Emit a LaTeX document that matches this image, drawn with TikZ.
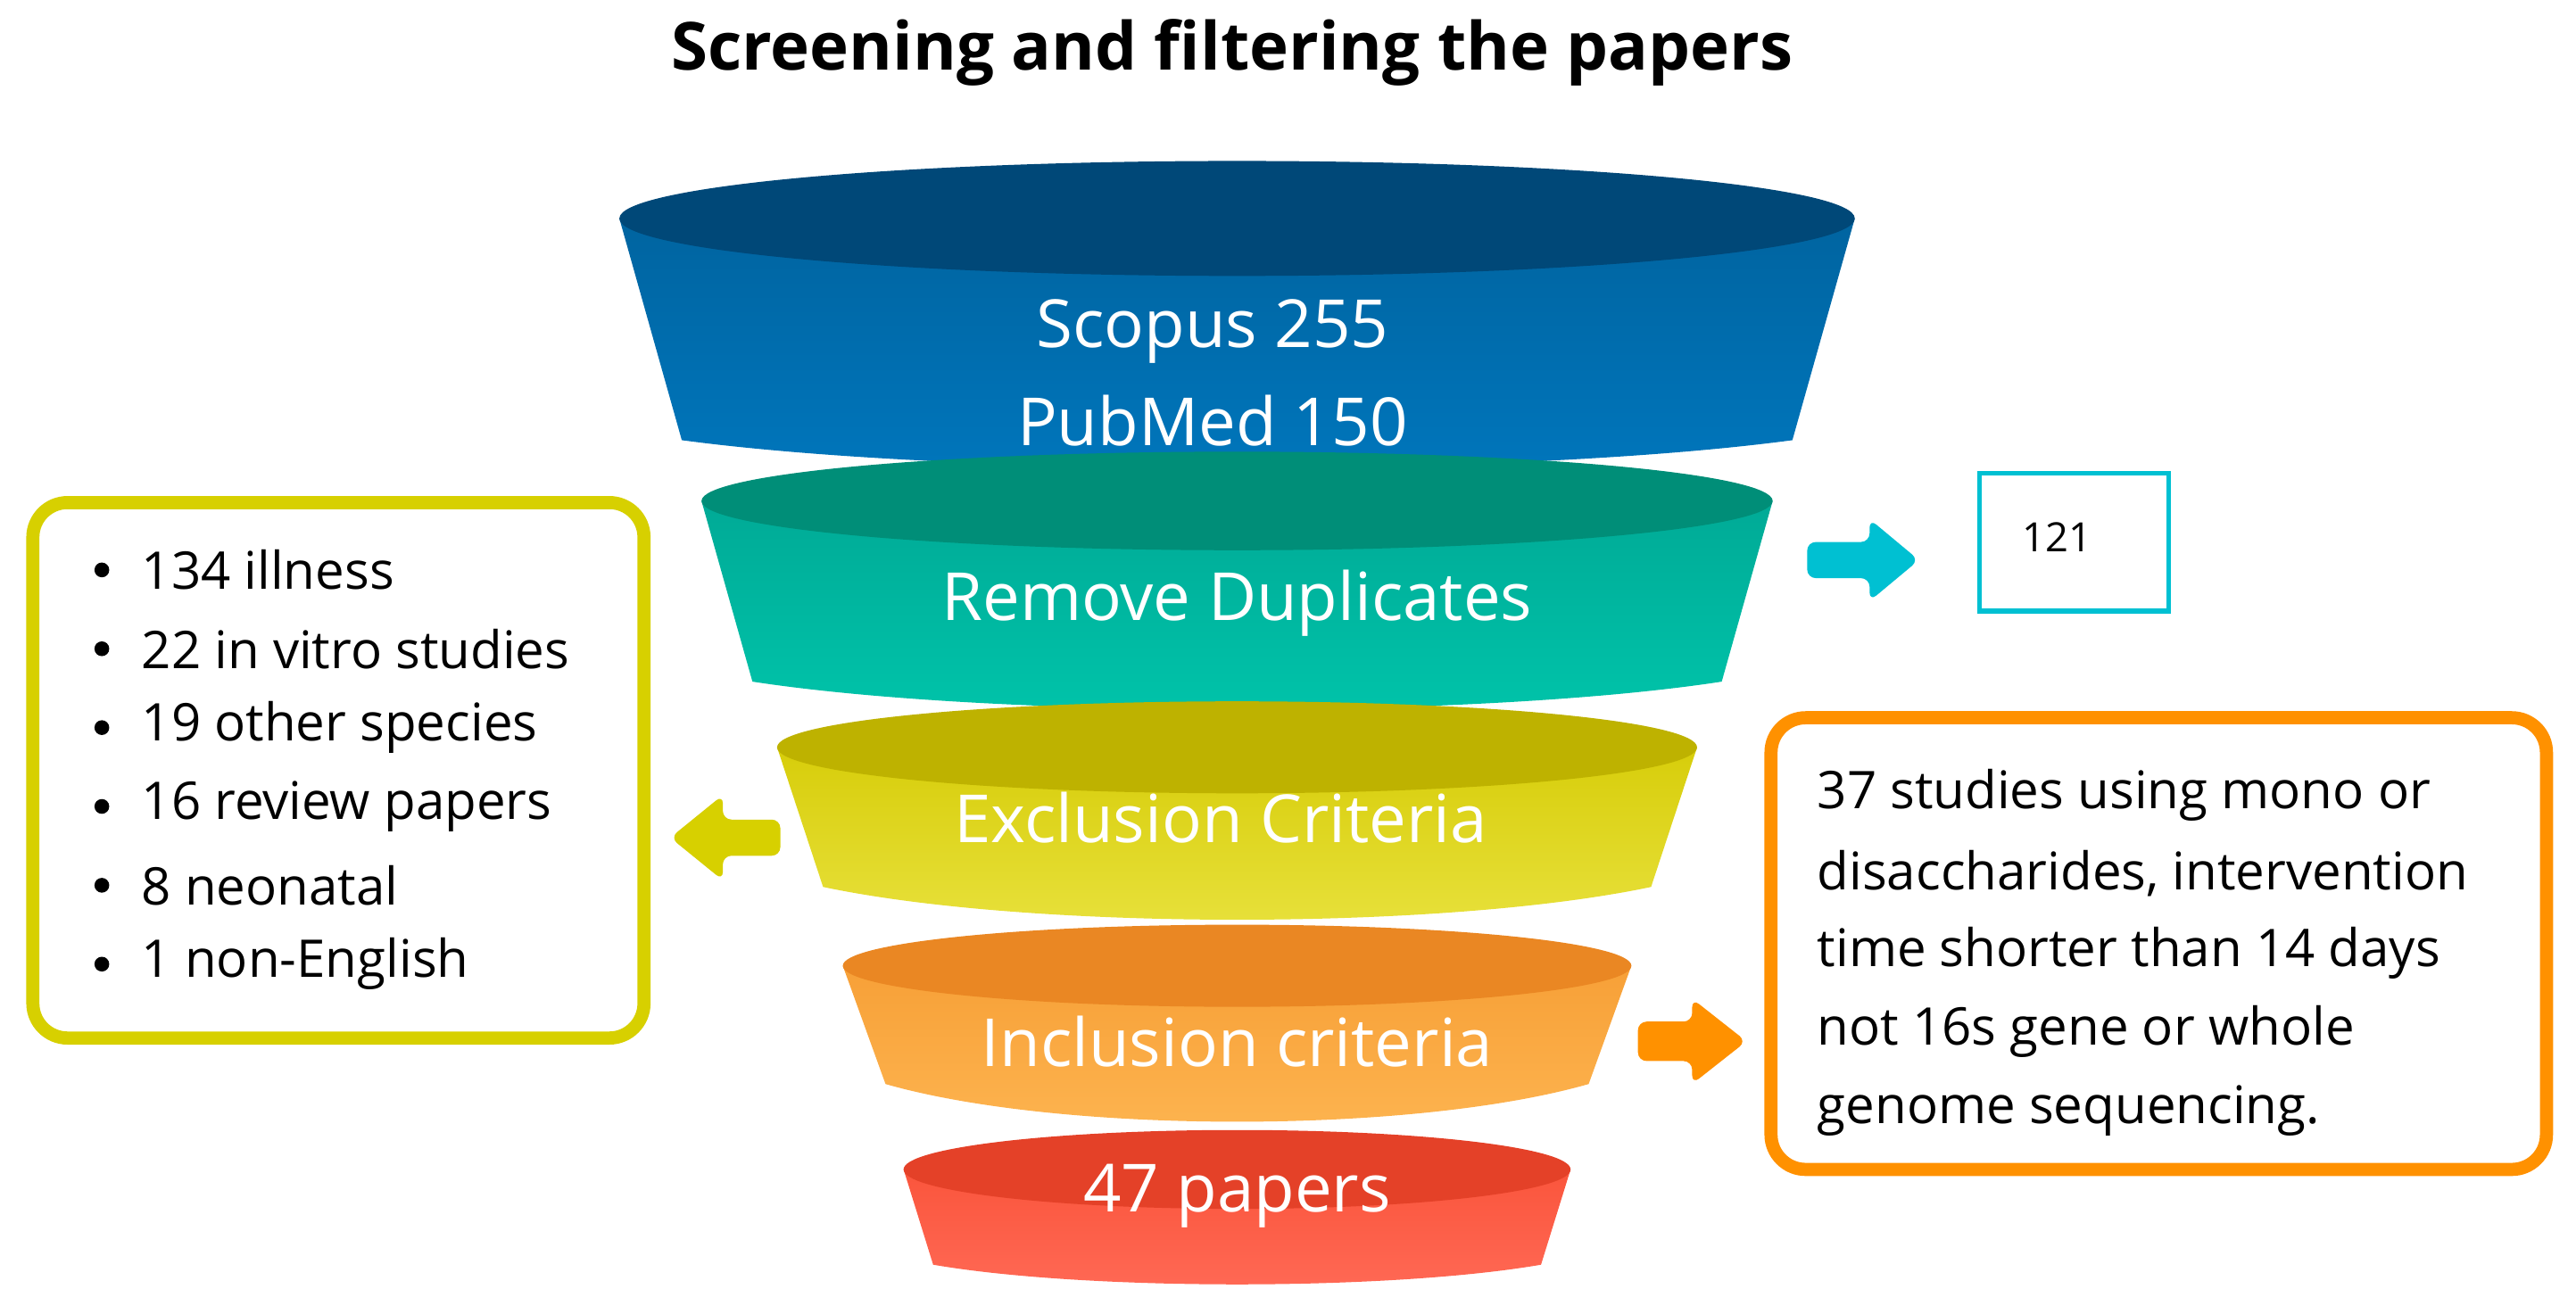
\documentclass[tikz,border=0pt]{standalone}
\usepackage{fontspec}
\setmainfont{Open Sans}
\begin{document}
\begin{tikzpicture}[x=0.02cm,y=-0.02cm,
  ftext/.style={text=white,font=\fontsize{23}{28}\selectfont\addfontfeature{}},
  ltext/.style={anchor=west,font=\fontsize{18}{22}\selectfont},
  box/.style={rounded corners=12pt,line width=#1}]
\useasboundingbox (0,0) rectangle (1568,800);
\definecolor{b1}{RGB}{0,72,120}\definecolor{b2}{RGB}{0,100,160}\definecolor{b3}{RGB}{0,118,188}
\definecolor{t1}{RGB}{0,142,120}\definecolor{t2}{RGB}{0,170,150}\definecolor{t3}{RGB}{0,196,170}
\definecolor{y1}{RGB}{190,178,0}\definecolor{y2}{RGB}{215,205,10}\definecolor{y3}{RGB}{232,225,60}
\definecolor{o1}{RGB}{234,135,35}\definecolor{o2}{RGB}{247,160,55}\definecolor{o3}{RGB}{253,180,80}
\definecolor{r1}{RGB}{228,65,40}\definecolor{r2}{RGB}{250,85,60}\definecolor{r3}{RGB}{255,105,85}
\definecolor{ybox}{RGB}{215,208,0}\definecolor{cy}{RGB}{0,192,210}\definecolor{ob}{RGB}{255,145,0}
% #1 top half width, #2 top y, #3 ellipse ry, #4 bottom half width, #5 bottom y, #6 sag, #7 dark, #8 upper, #9 lower
\newcommand\funseg[9]{%
  \shade[top color=#8,bottom color=#9] (753-#1,#2) -- (753-#4,#5)
     .. controls (753-#4*0.5,#5+#6*1.33) and (753+#4*0.5,#5+#6*1.33) .. (753+#4,#5) -- (753+#1,#2) -- cycle;
  \fill[#7] (753,#2) ellipse [x radius=#1*0.02cm, y radius=#3*0.02cm];}
\funseg{376}{133}{35}{338}{268}{17}{b1}{b2}{b3}
\funseg{326}{305}{30}{295}{415}{17}{t1}{t2}{t3}
\funseg{280}{455}{28}{252}{540}{20}{y1}{y2}{y3}
\funseg{240}{588}{25}{214}{660}{23}{o1}{o2}{o3}
\funseg{203}{712}{24}{185}{770}{12}{r1}{r2}{r3}
\node[font=\fontsize{23}{28}\selectfont\bfseries] (title) at (750,32) {Screening and filtering the papers};
\node[ftext] (s1) at (738,202) {Scopus 255};
\node[ftext] (s2) at (738,256) {PubMed 150};
\node[ftext] (s3) at (753,367) {Remove Duplicates};
\node[ftext] (s4) at (743,498) {Exclusion Criteria};
\node[ftext] (s5) at (753,634) {Inclusion criteria};
\node[ftext] (s6) at (753,728) {47 papers};
% left box
\draw[ybox,box=8*0.02cm] (20,306) rectangle (392,632);
\foreach \t [count=\i] in {134 illness,22 in vitro studies,19 other species,16 review papers,8 neonatal,1 non-English}{
  \fill (62,{347+48*(\i-1)}) circle[radius=4.5*0.02cm];
  \node[ltext] (l\i) at (80,{347+48*(\i-1)}) {\t};}
% yellow arrow
\fill[ybox,rounded corners=3pt] (475,499) -- (440,499) -- (440,484) -- (408,510) -- (440,536) -- (440,521) -- (475,521) -- cycle;
% cyan arrow
\fill[cy,rounded corners=3pt] (1100,330) -- (1138,330) -- (1138,316) -- (1168,341) -- (1138,366) -- (1138,352) -- (1100,352) -- cycle;
\draw[cy,line width=3*0.02cm] (1205,288) rectangle (1320,372);
\node[font=\fontsize{14}{17}\selectfont] (n121) at (1252,327) {121};
% orange arrow
\fill[ob,rounded corners=3pt] (997,622) -- (1030,622) -- (1030,608) -- (1063,634) -- (1030,660) -- (1030,646) -- (997,646) -- cycle;
\draw[ob,box=8*0.02cm] (1078,437) rectangle (1550,712);
\foreach \t [count=\i] in {37 studies using mono or,{disaccharides, intervention},time shorter than 14 days,not 16s gene or whole,genome sequencing.}{
  \node[ltext] (r\i) at (1100,{484+48*(\i-1)}) {\t};}
\end{tikzpicture}
\end{document}
